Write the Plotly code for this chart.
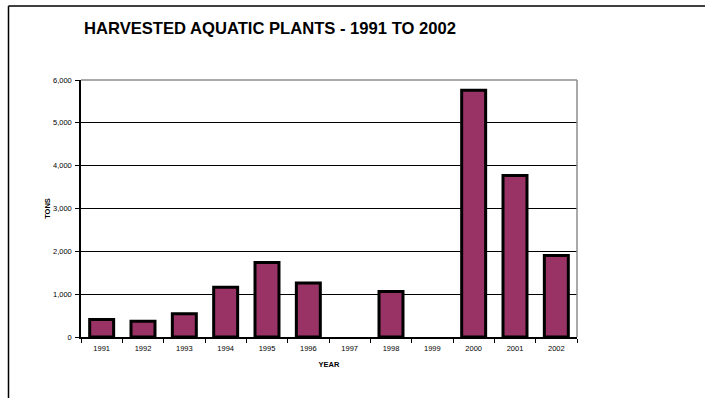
import plotly.graph_objects as go

# Harvested aquatic plants, tons per year
years = ["1991", "1992", "1993", "1994", "1995", "1996",
         "1997", "1998", "1999", "2000", "2001", "2002"]
tons = [410, 370, 540, 1160, 1740, 1260, None, 1060, None, 5760, 3770, 1900]
y_ticks = [0, 1000, 2000, 3000, 4000, 5000, 6000]

W, H = 705, 398
ML, MR, MT, MB = 81, 128, 80, 61
PW, PH = W - ML - MR, H - MT - MB

FONT = "Arial, 'Liberation Sans', sans-serif"


def px_x(p):
    return (p - ML) / PW


def px_y(p):
    return 1 - (p - MT) / PH


fig = go.Figure(
    go.Bar(
        x=years,
        y=tons,
        marker=dict(color="#993366", line=dict(color="#000000", width=3)),
        hoverinfo="x+y",
    )
)

fig.update_layout(
    width=W,
    height=H,
    margin=dict(l=ML, r=MR, t=MT, b=MB, pad=0),
    paper_bgcolor="white",
    plot_bgcolor="white",
    bargap=0.42,
    showlegend=False,
    font=dict(family=FONT, color="#000000", size=7.5),
    title=dict(
        text="<b>HARVESTED AQUATIC PLANTS - 1991 TO 2002</b>",
        x=84 / W,
        xref="container",
        xanchor="left",
        y=1 - 28 / H,
        yref="container",
        yanchor="middle",
        font=dict(family=FONT, size=16.6, color="#000000"),
    ),
    xaxis=dict(
        type="category",
        categoryorder="array",
        categoryarray=years,
        showline=True,
        linecolor="#000000",
        linewidth=1.5,
        ticks="outside",
        tickson="boundaries",
        ticklen=4,
        tickcolor="#000000",
        tickwidth=1,
        ticklabelstandoff=3,
        tickfont=dict(size=7.5, family=FONT, color="#000000"),
        showgrid=False,
        title=dict(text="<b>YEAR</b>", font=dict(size=7.5, family=FONT), standoff=10),
    ),
    yaxis=dict(
        range=[0, 6000],
        tickvals=y_ticks,
        tickformat=",",
        showline=True,
        linecolor="#000000",
        linewidth=1.5,
        ticks="outside",
        ticklen=4,
        tickcolor="#000000",
        tickwidth=1,
        ticklabelstandoff=2,
        tickfont=dict(size=7.5, family=FONT, color="#000000"),
        showgrid=True,
        gridcolor="#000000",
        gridwidth=1,
        zeroline=False,
        title=dict(text="<b>TONS</b>", font=dict(size=7.5, family=FONT), standoff=1),
    ),
)

# Grey border on the top and right edges of the plotting area
fig.add_shape(type="line", xref="paper", yref="paper", x0=0, x1=1, y0=1, y1=1,
              line=dict(color="#8c8c8c", width=1.5), layer="above")
fig.add_shape(type="line", xref="paper", yref="paper", x0=1, x1=1, y0=0, y1=1,
              line=dict(color="#8c8c8c", width=1.5), layer="above")

# Outer frame around the chart (top and left edges)
fig.add_shape(type="line", xref="paper", yref="paper",
              x0=px_x(8.5), x1=px_x(W), y0=px_y(6), y1=px_y(6),
              line=dict(color="#000000", width=1.5))
fig.add_shape(type="line", xref="paper", yref="paper",
              x0=px_x(8.5), x1=px_x(8.5), y0=px_y(6), y1=px_y(H),
              line=dict(color="#000000", width=1.5))

fig.write_html("out.html")
